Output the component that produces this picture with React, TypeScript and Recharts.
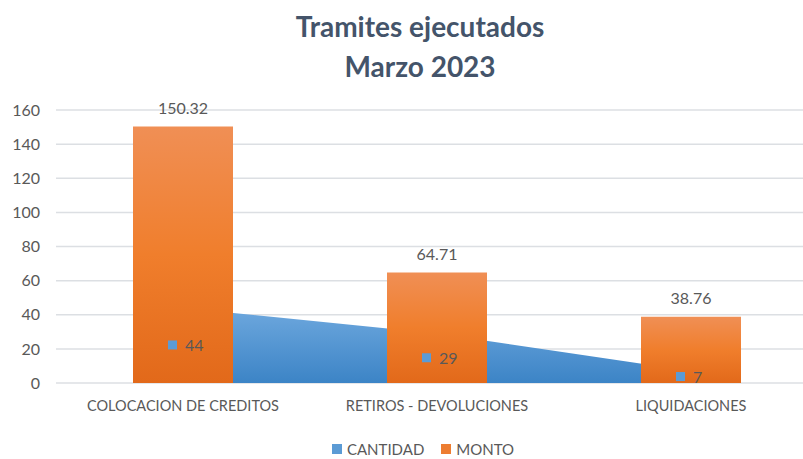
import React from "react";
import {
  ComposedChart,
  Area,
  Bar,
  XAxis,
  YAxis,
  CartesianGrid,
  Legend,
  LabelList,
} from "recharts";

const categories = ["COLOCACION DE CREDITOS", "RETIROS - DEVOLUCIONES", "LIQUIDACIONES"];
const cantidad = [44, 29, 7];
const monto = [150.32, 64.71, 38.76];
const yTicks = [0, 20, 40, 60, 80, 100, 120, 140, 160];

const data = categories.map((name, i) => ({ name, cantidad: cantidad[i], monto: monto[i] }));

const W = 830;
const H = 459;
const MARGIN = { top: 110, right: 12, left: 0, bottom: 0 };
const X_AXIS_H = 40;
const LEGEND_H = 36;
// bottom of the plot area, used to put area labels half way down
const PLOT_BOTTOM = H - MARGIN.bottom - X_AXIS_H - LEGEND_H;

const TEXT = "#595959";
const FONT = "Lato, 'Open Sans', sans-serif";

const AreaLabel = (props: any) => {
  const { x, y, value } = props;
  const mid = (y + PLOT_BOTTOM) / 2;
  return (
    <g>
      <rect x={x - 15} y={mid - 5} width={9} height={9} fill="#5B9BD5" />
      <text x={x + 2} y={mid} dy="0.35em" fill={TEXT} fontSize={16} fontFamily={FONT}>
        {value}
      </text>
    </g>
  );
};

const LegendContent = () => (
  <div
    style={{
      display: "flex",
      justifyContent: "center",
      gap: 17,
      paddingTop: 17,
      paddingLeft: 28,
      fontFamily: FONT,
      fontSize: 15,
      color: TEXT,
    }}
  >
    <span style={{ display: "flex", alignItems: "center", gap: 5 }}>
      <span style={{ width: 10, height: 10, background: "#5B9BD5", display: "inline-block" }} />
      CANTIDAD
    </span>
    <span style={{ display: "flex", alignItems: "center", gap: 5 }}>
      <span style={{ width: 10, height: 10, background: "#ED7D31", display: "inline-block" }} />
      MONTO
    </span>
  </div>
);

export default function App() {
  return (
    <div
      style={{
        position: "absolute",
        left: 0,
        top: 0,
        width: 803,
        height: 459,
        overflow: "hidden",
        background: "#fff",
      }}
    >
      <div
        style={{
          position: "absolute",
          left: 0,
          top: 6,
          width: 840,
          textAlign: "center",
          fontFamily: FONT,
          fontWeight: 700,
          fontSize: 28,
          lineHeight: "40px",
          color: "#44546A",
          zIndex: 1,
        }}
      >
        Tramites ejecutados
        <br />
        Marzo 2023
      </div>
      <ComposedChart width={W} height={H} data={data} margin={MARGIN}>
        <defs>
          <linearGradient id="gradBlue" x1="0" y1="0" x2="0" y2="1">
            <stop offset="0%" stopColor="#6EA8DE" />
            <stop offset="100%" stopColor="#3C84C6" />
          </linearGradient>
          <linearGradient id="gradOrange" x1="0" y1="0" x2="0" y2="1">
            <stop offset="0%" stopColor="#F08F55" />
            <stop offset="50%" stopColor="#F07E2C" />
            <stop offset="100%" stopColor="#E2691A" />
          </linearGradient>
        </defs>
        <CartesianGrid vertical={false} stroke="#DCDFE3" strokeWidth={1.5} />
        <XAxis
          dataKey="name"
          axisLine={false}
          tickLine={false}
          tickSize={0}
          tickMargin={18}
          height={X_AXIS_H}
          tick={{ fill: TEXT, fontSize: 14.5, fontFamily: FONT }}
          interval={0}
        />
        <YAxis
          domain={[0, 160]}
          ticks={yTicks}
          axisLine={false}
          tickLine={false}
          tickSize={0}
          tickMargin={16}
          width={56}
          tick={{ fill: TEXT, fontSize: 16, fontFamily: FONT }}
        />
        <Legend verticalAlign="bottom" height={LEGEND_H} content={<LegendContent />} />
        <Area
          type="linear"
          dataKey="cantidad"
          name="CANTIDAD"
          stroke="none"
          fill="url(#gradBlue)"
          fillOpacity={1}
          isAnimationActive={false}
          dot={false}
          activeDot={false}
        />
        <Bar
          dataKey="monto"
          name="MONTO"
          fill="url(#gradOrange)"
          barSize={100}
          isAnimationActive={false}
        >
          <LabelList
            dataKey="monto"
            position="top"
            offset={13}
            fill={TEXT}
            fontSize={16}
            fontFamily={FONT}
          />
        </Bar>
        <Area
          type="linear"
          dataKey="cantidad"
          stroke="none"
          fill="none"
          isAnimationActive={false}
          legendType="none"
          dot={false}
          activeDot={false}
        >
          <LabelList dataKey="cantidad" content={<AreaLabel />} />
        </Area>
      </ComposedChart>
    </div>
  );
}
